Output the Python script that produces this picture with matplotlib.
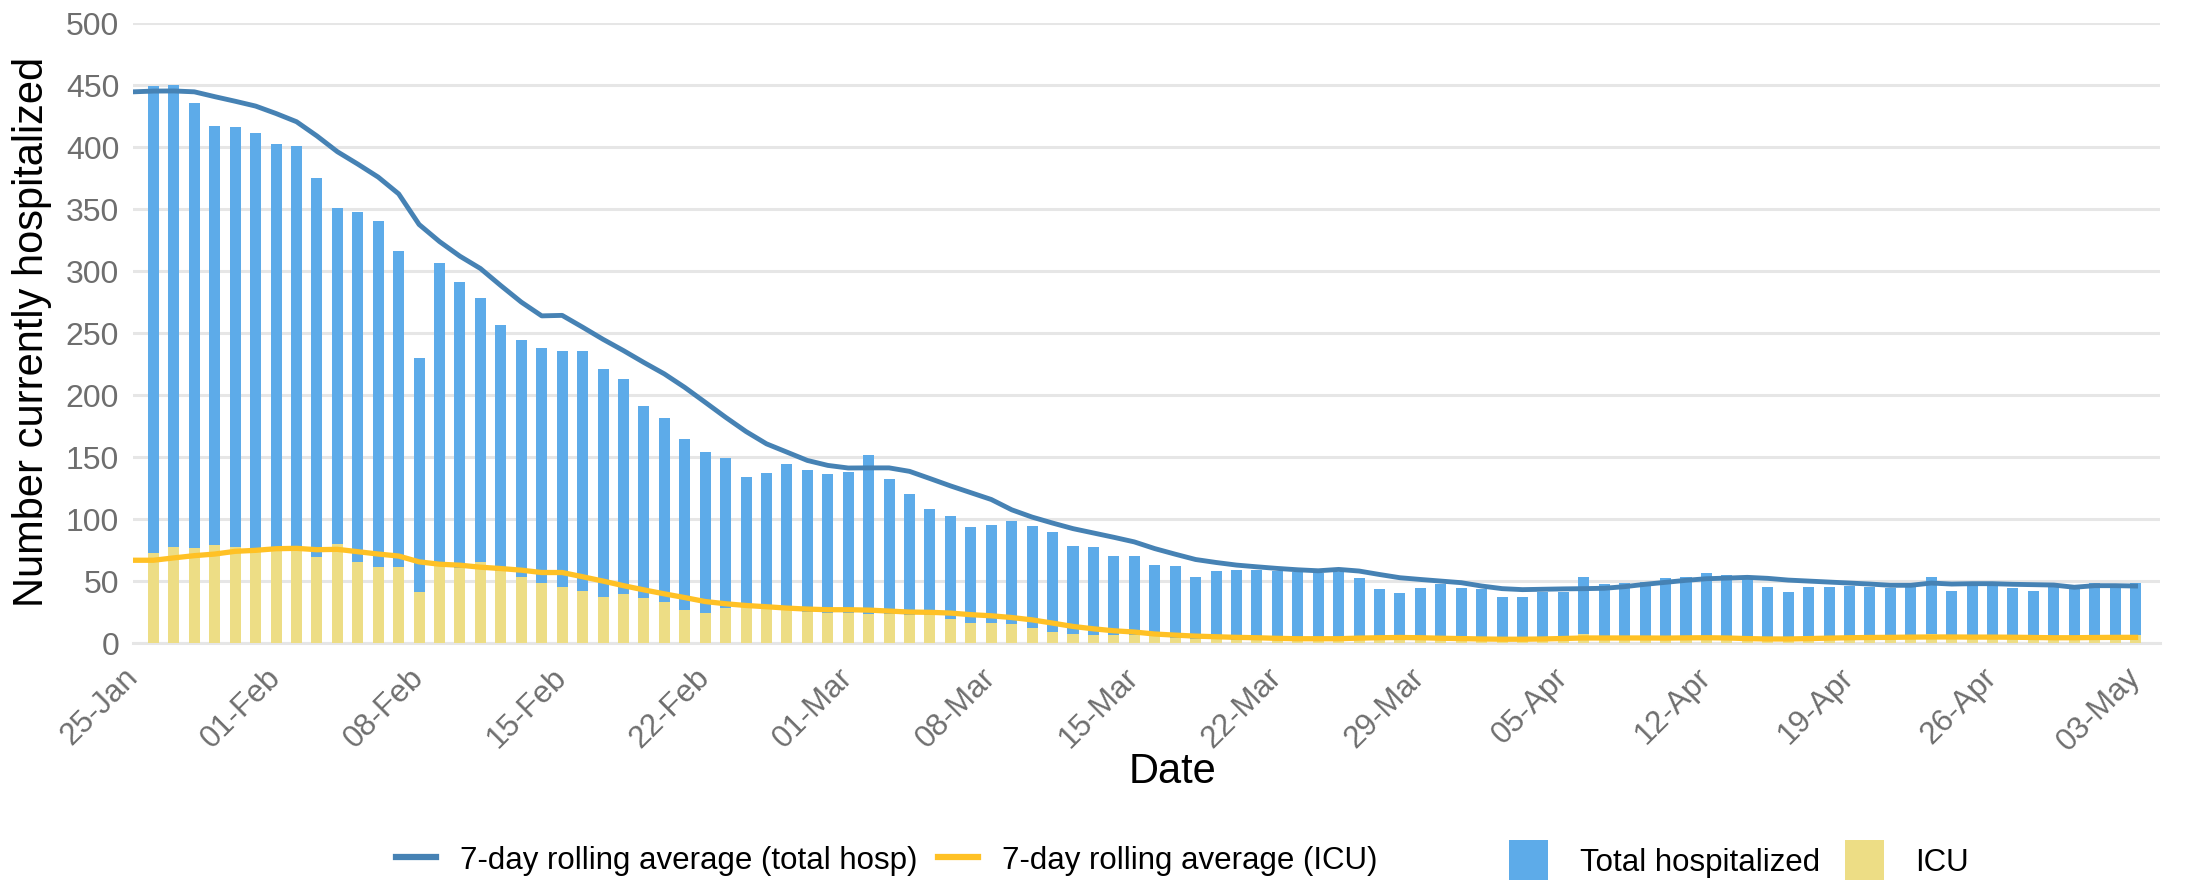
import matplotlib
matplotlib.use("Agg")
import matplotlib.pyplot as plt
import numpy as np

plt.rcParams['font.family'] = ['Liberation Sans', 'DejaVu Sans']

# daily counts, 26-Jan .. 03-May
total_hosp = [449, 450, 435, 417, 416, 411, 402, 401, 375, 351,
              347, 340, 316, 230, 306, 291, 278, 256, 244, 238,
              235, 235, 221, 213, 191, 181, 164, 154, 149, 134,
              137, 144, 139, 136, 138, 151, 132, 120, 108, 102,
              93, 95, 98, 94, 89, 78, 77, 70, 70, 63,
              62, 53, 58, 59, 59, 58, 57, 56, 57, 52,
              43, 40, 44, 47, 44, 43, 37, 37, 41, 41,
              53, 47, 48, 49, 52, 53, 56, 55, 52, 45,
              41, 45, 45, 46, 45, 44, 45, 53, 42, 46,
              46, 44, 42, 45, 43, 48, 47, 48]
icu = [72, 77, 76, 79, 77, 75, 76, 77, 69, 80,
       65, 61, 61, 41, 62, 60, 65, 58, 53, 48,
       45, 42, 37, 39, 36, 33, 26, 24, 28, 29,
       28, 26, 25, 24, 24, 23, 23, 22, 22, 19,
       16, 16, 15, 12, 9, 7, 6, 6, 6, 5,
       4, 3, 3, 2, 2, 2, 3, 3, 4, 4,
       5, 4, 4, 5, 5, 4, 3, 3, 4, 4,
       7, 5, 5, 5, 4, 5, 4, 4, 4, 4,
       3, 5, 5, 5, 6, 5, 6, 7, 6, 5,
       6, 6, 6, 5, 5, 5, 5, 6]

# 7-day rolling averages, 25-Jan .. 03-May
avg_total = [444.3, 444.9, 445.0, 444.3, 440.4, 436.7, 432.8, 426.8, 420.2, 408.7,
             396.0, 386.0, 375.5, 362.0, 337.3, 323.5, 311.7, 301.8, 288.0, 274.7,
             263.6, 264.0, 254.5, 244.7, 235.6, 226.0, 216.8, 205.9, 193.9, 181.8,
             170.3, 160.4, 153.7, 147.0, 143.0, 140.9, 141.0, 141.0, 138.2, 132.4,
             126.5, 121.0, 115.5, 107.2, 101.3, 96.5, 92.0, 88.5, 85.0, 81.3,
             75.9, 71.4, 67.1, 64.7, 62.6, 61.2, 59.9, 58.8, 58.0, 59.1,
             57.8, 55.0, 52.4, 51.0, 49.7, 48.4, 45.7, 43.6, 42.8, 43.1,
             43.4, 43.6, 43.9, 45.2, 47.1, 48.7, 50.3, 51.6, 52.1, 52.7,
             51.9, 50.5, 49.7, 48.9, 48.1, 47.3, 46.3, 46.3, 48.1, 47.3,
             47.6, 47.6, 47.1, 46.8, 46.5, 44.7, 46.0, 46.0, 45.7]
avg_icu = [66.5, 66.5, 68.4, 70.2, 71.5, 73.7, 74.5, 75.8, 76.1, 75.0,
           75.3, 73.4, 71.5, 69.9, 65.2, 63.3, 62.5, 60.9, 59.8, 58.5,
           56.6, 56.6, 53.2, 49.7, 46.0, 42.6, 39.4, 36.4, 33.2, 31.4,
           30.0, 29.0, 27.9, 27.1, 26.6, 26.6, 26.3, 25.5, 24.7, 24.5,
           23.9, 22.6, 21.7, 20.3, 18.4, 15.8, 13.1, 11.2, 9.6, 8.6,
           7.0, 6.1, 5.3, 4.8, 4.3, 4.0, 3.5, 3.2, 3.2, 3.2,
           3.7, 4.0, 4.2, 4.0, 3.6, 3.3, 3.0, 2.8, 2.8, 3.0,
           3.4, 3.8, 3.8, 3.8, 3.8, 3.7, 3.9, 4.0, 3.8, 3.3,
           3.0, 3.0, 3.3, 3.7, 4.0, 4.2, 4.3, 4.5, 4.6, 4.6,
           4.5, 4.5, 4.4, 4.2, 4.0, 4.0, 4.2, 4.3, 4.3]

tick_labels = ['25-Jan', '01-Feb', '08-Feb', '15-Feb', '22-Feb', '01-Mar', '08-Mar',
               '15-Mar', '22-Mar', '29-Mar', '05-Apr', '12-Apr', '19-Apr', '26-Apr',
               '03-May']

gray = '#6E6E6E'

fig = plt.figure(figsize=(21.99, 8.87), dpi=100)
ax = fig.add_axes([0.0605, 0.2743, 0.9218, 0.6989])

day_line = np.arange(len(avg_total))
day_bar = np.arange(1, len(total_hosp) + 1)

bars_total = ax.bar(day_bar, total_hosp, width=0.54, color='#5DABE9', zorder=2,
                    label='Total hospitalized')
bars_icu = ax.bar(day_bar, icu, width=0.54, color='#EDDD85', zorder=3, label='ICU')
line_total, = ax.plot(day_line, avg_total, color='#4682B4', lw=3.5, zorder=4,
                      label='7-day rolling average (total hosp)')
line_icu, = ax.plot(day_line, avg_icu, color='#FFC125', lw=3.8, zorder=5,
                    label='7-day rolling average (ICU)')

ax.set_xlim(0, 99.2)
ax.set_ylim(0, 500)
ax.set_yticks(np.arange(0, 501, 50))
ax.set_xticks(np.arange(0, 99, 7))
ax.set_xticklabels(tick_labels)
plt.setp(ax.get_xticklabels(), rotation=45, ha='right', va='center',
         rotation_mode='anchor')

ax.grid(axis='y', color='#E6E6E6', lw=2.2, zorder=0)
ax.set_axisbelow(True)
for side in ['top', 'right', 'left']:
    ax.spines[side].set_visible(False)
ax.spines['bottom'].set_color('#E6E6E6')
ax.spines['bottom'].set_linewidth(2.2)

ax.tick_params(axis='x', length=0, pad=21, labelsize=22.5, labelcolor=gray)
ax.tick_params(axis='y', length=0, pad=10, labelsize=23, labelcolor=gray)

ax.set_ylabel('Number currently hospitalized', fontsize=30, color='black')
ax.yaxis.set_label_coords(-0.040, 0.503)
ax.set_xlabel('Date', fontsize=30, color='black')
ax.xaxis.set_label_coords(0.513, -0.175)

# legends: lines on the left, bars on the right
leg1 = fig.legend(handles=[line_total, line_icu], loc='center',
                  bbox_to_anchor=(0.4034, 0.0293), ncol=2, frameon=False,
                  fontsize=22.5, handlelength=1.27, handletextpad=0.78,
                  columnspacing=0.65)
for ln in leg1.get_lines():
    ln.set_linewidth(4.5)

leg2 = fig.legend(handles=[bars_total, bars_icu], loc='center',
                  bbox_to_anchor=(0.7908, 0.0293), ncol=2, frameon=False,
                  fontsize=22.5, handlelength=1.25, handleheight=1.6,
                  handletextpad=1.0, columnspacing=0.8)

fig.savefig('out.png', dpi=100)
